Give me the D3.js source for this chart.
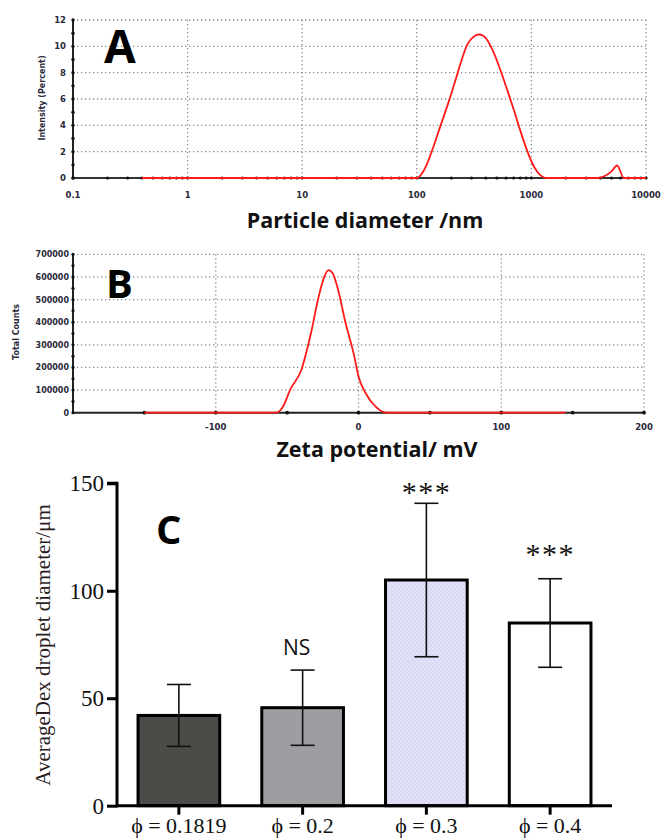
<!DOCTYPE html>
<html><head><meta charset="utf-8">
<script src="https://cdn.jsdelivr.net/npm/d3@7"></script>
<style>html,body{margin:0;padding:0;background:#fff}svg{display:block}</style>
</head><body>
<svg id="c" width="662" height="839"></svg>
<script>
// ---- Panel A data (DLS size distribution)
const sizeNm    = [0.4, 100, 112, 123, 140, 160, 190, 217, 245, 274, 310, 347, 380, 410, 470, 536, 620, 701, 800, 916, 1020, 1120, 1250, 1370, 3740, 5000, 5600, 6410, 10000];
const intensity = [0,   0,   0.4, 1.1, 2.4, 3.9, 5.8, 7.4, 8.9, 10.1, 10.7, 10.9, 10.8, 10.5, 9.5, 8.2, 6.6, 5.2, 3.6, 2.1, 1.1, 0.5, 0.1, 0, 0, 0.5, 0.95, 0, 0];
const sizeTicks = [0.1, 1, 10, 100, 1000, 10000];
const sizeTickLabels = ["0.1", "1", "10", "100", "1000", "10000"];
const intensityTicks = [0, 2, 4, 6, 8, 10, 12];

// ---- Panel B data (zeta potential)
const zeta   = [-150, -58, -53, -48, -40, -33, -28, -24, -21, -18, -15, -9, -3, 0, 5, 12, 20, 145];
const counts = [0, 0, 25000, 100000, 190000, 360000, 510000, 600000, 630000, 615000, 560000, 395000, 250000, 160000, 86000, 27000, 0, 0];
const zetaTicks = [-100, 0, 100, 200];
const countTicks = [0, 100000, 200000, 300000, 400000, 500000, 600000, 700000];

// ---- Panel C data (bar chart)
const groups = ["ϕ = 0.1819", "ϕ = 0.2", "ϕ = 0.3", "ϕ = 0.4"];
const means  = [42, 45.6, 105, 85];
const errs   = [14.4, 17.5, 35.7, 20.6];
const sigLabels = ["", "NS", "***", "***"];
const diamTicks = [0, 50, 100, 150];

const svg = d3.select("#c");
const axisFont = "'DejaVu Sans', Verdana, sans-serif";
const titleFont = "'Open Sans', 'DejaVu Sans', sans-serif";
const serif = "'Liberation Serif', 'Times New Roman', serif";
const gridCol = "#8a8a8a";

// ================= Panel A =================
(function(){
  const x = d3.scaleLog().domain([0.1, 10000]).range([73, 646]);
  const y = d3.scaleLinear().domain([0, 12]).range([178, 20]);
  const g = svg.append("g");
  g.selectAll(".hg").data(intensityTicks.filter(d=>d>0)).enter().append("line")
    .attr("x1", x(0.1)).attr("x2", x(10000)).attr("y1", d=>y(d)).attr("y2", d=>y(d))
    .attr("stroke", gridCol).attr("stroke-width", 1.3).attr("stroke-dasharray", "1.3,2.7");
  g.selectAll(".vg").data(sizeTicks.slice(1)).enter().append("line")
    .attr("x1", d=>x(d)).attr("x2", d=>x(d)).attr("y1", y(12)).attr("y2", y(0))
    .attr("stroke", gridCol).attr("stroke-width", 1.3).attr("stroke-dasharray", "1.3,2.7");
  g.append("line").attr("x1", x(0.1)).attr("x2", x(0.1)).attr("y1", y(12)).attr("y2", y(0)).attr("stroke","#222").attr("stroke-width",2);
  g.append("line").attr("x1", x(0.1)).attr("x2", x(10000)).attr("y1", y(0)).attr("y2", y(0)).attr("stroke","#333").attr("stroke-width",2);
  const yMinor = d3.range(0, 13, 1);
  g.selectAll(".ym").data(yMinor).enter().append("circle").attr("cx", x(0.1)).attr("cy", d=>y(d)).attr("r", 1.7).attr("fill","#111");
  const xMinor = [];
  [0.1,1,10,100,1000].forEach(dec=>{ for(let k=1;k<10;k++) xMinor.push(dec*k); });
  xMinor.push(10000);
  g.selectAll(".xm").data(xMinor).enter().append("circle").attr("cx", d=>x(d)).attr("cy", y(0)).attr("r", 1.6).attr("fill","#111");
  const line = d3.line().x((d,i)=>x(sizeNm[i])).y((d,i)=>y(intensity[i])).curve(d3.curveMonotoneX);
  g.append("path").datum(intensity).attr("d", line).attr("fill","none").attr("stroke","#ff1a1a").attr("stroke-width",1.8);
  g.selectAll(".yl").data(intensityTicks).enter().append("text")
    .attr("x", 66).attr("y", d=>y(d)+3).attr("text-anchor","end")
    .attr("font-family", axisFont).attr("font-size", 8.5).attr("font-weight","bold").attr("fill","#2a2a3a").text(d=>d);
  g.selectAll(".xl").data(sizeTicks).enter().append("text")
    .attr("x", (d)=>x(d)).attr("y", 198).attr("text-anchor","middle")
    .attr("font-family", axisFont).attr("font-size", 8.5).attr("font-weight","bold").attr("fill","#2a2a3a").text((d,i)=>sizeTickLabels[i]);
  g.append("text").attr("transform","translate(45,98) rotate(-90)").attr("text-anchor","middle")
    .attr("font-family", axisFont).attr("font-size", 8).attr("font-weight","bold").attr("fill","#2a2a3a").text("Intensity (Percent)");
  g.append("text").attr("x", 365).attr("y", 228).attr("text-anchor","middle")
    .attr("font-family", titleFont).attr("font-size", 21.5).attr("font-weight","bold").attr("fill","#111").text("Particle diameter /nm");
  g.append("text").attr("x", 104).attr("y", 63)
    .attr("font-family", titleFont).attr("font-size", 46).attr("font-weight","bold").attr("fill","#000").text("A");
})();

// ================= Panel B =================
(function(){
  const x = d3.scaleLinear().domain([-200, 200]).range([73, 644]);
  const y = d3.scaleLinear().domain([0, 700000]).range([412.7, 254.3]);
  const g = svg.append("g");
  g.selectAll(".hg").data(countTicks.filter(d=>d>0)).enter().append("line")
    .attr("x1", x(-200)).attr("x2", x(200)).attr("y1", d=>y(d)).attr("y2", d=>y(d))
    .attr("stroke", gridCol).attr("stroke-width", 1.3).attr("stroke-dasharray", "1.3,2.7");
  g.selectAll(".vg").data(zetaTicks).enter().append("line")
    .attr("x1", d=>x(d)).attr("x2", d=>x(d)).attr("y1", y(700000)).attr("y2", y(0))
    .attr("stroke", gridCol).attr("stroke-width", 1.3).attr("stroke-dasharray", "1.3,2.7");
  g.append("line").attr("x1", x(-200)).attr("x2", x(-200)).attr("y1", y(700000)).attr("y2", y(0)).attr("stroke","#222").attr("stroke-width",2);
  g.append("line").attr("x1", x(-200)).attr("x2", x(200)).attr("y1", y(0)).attr("y2", y(0)).attr("stroke","#222").attr("stroke-width",2);
  const yMinor = d3.range(0, 700001, 50000);
  g.selectAll(".ym").data(yMinor).enter().append("circle").attr("cx", x(-200)).attr("cy", d=>y(d)).attr("r", 1.6).attr("fill","#111");
  const xMinor = d3.range(-150, 201, 50);
  g.selectAll(".xm").data(xMinor).enter().append("circle").attr("cx", d=>x(d)).attr("cy", y(0)).attr("r", 1.9).attr("fill","#111");
  const line = d3.line().x((d,i)=>x(zeta[i])).y((d,i)=>y(counts[i])).curve(d3.curveMonotoneX);
  g.append("path").datum(counts).attr("d", line).attr("fill","none").attr("stroke","#ff1a1a").attr("stroke-width",1.8);
  g.selectAll(".yl").data(countTicks).enter().append("text")
    .attr("x", 69).attr("y", d=>y(d)+3).attr("text-anchor","end")
    .attr("font-family", axisFont).attr("font-size", 8).attr("font-weight","bold").attr("fill","#2a2a3a").text(d=>d);
  g.selectAll(".xl").data(zetaTicks).enter().append("text")
    .attr("x", d=>x(d)).attr("y", 430).attr("text-anchor","middle")
    .attr("font-family", axisFont).attr("font-size", 8.5).attr("font-weight","bold").attr("fill","#2a2a3a").text(d=>d);
  g.append("text").attr("transform","translate(19,332) rotate(-90)").attr("text-anchor","middle")
    .attr("font-family", axisFont).attr("font-size", 8).attr("font-weight","bold").attr("fill","#2a2a3a").text("Total Counts");
  g.append("text").attr("x", 377).attr("y", 457).attr("text-anchor","middle")
    .attr("font-family", titleFont).attr("font-size", 21.5).attr("font-weight","bold").attr("fill","#111").text("Zeta potential/ mV");
  g.append("text").attr("x", 106).attr("y", 298)
    .attr("font-family", titleFont).attr("font-size", 40).attr("font-weight","bold").attr("fill","#000").text("B");
})();

// ================= Panel C =================
(function(){
  const defs = svg.append("defs");
  const pat = defs.append("pattern").attr("id","dots").attr("patternUnits","userSpaceOnUse").attr("width",4).attr("height",4);
  pat.append("rect").attr("width",4).attr("height",4).attr("fill","#d9d9f7");
  pat.append("circle").attr("cx",1).attr("cy",1).attr("r",0.8).attr("fill","#eeeefc");
  pat.append("circle").attr("cx",3).attr("cy",3).attr("r",0.8).attr("fill","#eeeefc");
  const fills = ["#4b4c48", "#9d9da2", "url(#dots)", "#ffffff"];
  const sigGap = [0, 15, 1, 15];

  const x = d3.scaleBand().domain(groups).range([117, 612]).paddingInner(0.34).paddingOuter(0.17);
  const y = d3.scaleLinear().domain([0, 150]).range([805.7, 483.3]);
  const g = svg.append("g");
  g.selectAll(".bar").data(means).enter().append("rect")
    .attr("x", (d,i)=>x(groups[i])).attr("width", x.bandwidth())
    .attr("y", d=>y(d)).attr("height", d=>y(0)-y(d))
    .attr("fill", (d,i)=>fills[i]).attr("stroke","#000").attr("stroke-width",3);
  const eb = g.selectAll(".eb").data(means).enter().append("g");
  eb.append("line").attr("x1",(d,i)=>x(groups[i])+x.bandwidth()/2).attr("x2",(d,i)=>x(groups[i])+x.bandwidth()/2)
    .attr("y1",(d,i)=>y(d+errs[i])).attr("y2",(d,i)=>y(d-errs[i])).attr("stroke","#111").attr("stroke-width",1.6);
  [1,-1].forEach(s=>{
    eb.append("line").attr("x1",(d,i)=>x(groups[i])+x.bandwidth()/2-12).attr("x2",(d,i)=>x(groups[i])+x.bandwidth()/2+12)
      .attr("y1",(d,i)=>y(d+s*errs[i])).attr("y2",(d,i)=>y(d+s*errs[i])).attr("stroke","#111").attr("stroke-width",1.6);
  });
  const yAxis = d3.axisLeft(y).tickValues(diamTicks).tickSize(10).tickPadding(3);
  const ya = g.append("g").attr("transform","translate(117,0)").call(yAxis);
  ya.select(".domain").attr("stroke","#000").attr("stroke-width",3).attr("d", `M-10,${y(150)}H0V${y(0)+1.5}`);
  ya.selectAll(".tick line").attr("stroke","#000").attr("stroke-width",3);
  ya.selectAll(".tick text").attr("font-family", serif).attr("font-size", 23).attr("fill","#111").attr("dy","0.33em");
  const xAxis = d3.axisBottom(x).tickSize(9).tickPadding(2);
  const xa = g.append("g").attr("transform",`translate(0,${y(0)})`).call(xAxis);
  xa.select(".domain").attr("stroke","#000").attr("stroke-width",3).attr("d", `M117,0H612`);
  xa.selectAll(".tick line").attr("stroke","#000").attr("stroke-width",3);
  xa.selectAll(".tick text").attr("font-family", serif).attr("font-size", 22).attr("fill","#111").attr("dy","0.72em");
  g.selectAll(".sig").data(sigLabels).enter().append("text")
    .attr("x",(d,i)=>x(groups[i])+x.bandwidth()/2 + (d==="NS"?-6:0))
    .attr("y",(d,i)=> y(means[i]+errs[i]) - sigGap[i])
    .attr("text-anchor","middle")
    .attr("font-family",(d)=> d==="NS" ? titleFont : serif)
    .attr("font-size",(d)=> d==="NS" ? 21 : 30)
    .attr("letter-spacing",(d)=> d==="NS" ? 0 : 1.5)
    .attr("fill","#111").text(d=>d);
  g.append("text").attr("transform","translate(50,645) rotate(-90)").attr("text-anchor","middle")
    .attr("font-family", serif).attr("font-size", 21).attr("fill","#2a1d1d").text("AverageDex droplet diameter/μm");
  g.append("text").attr("x", 156).attr("y", 544)
    .attr("font-family", titleFont).attr("font-size", 40).attr("font-weight","bold").attr("fill","#000").text("C");
})();
</script>
</body></html>
